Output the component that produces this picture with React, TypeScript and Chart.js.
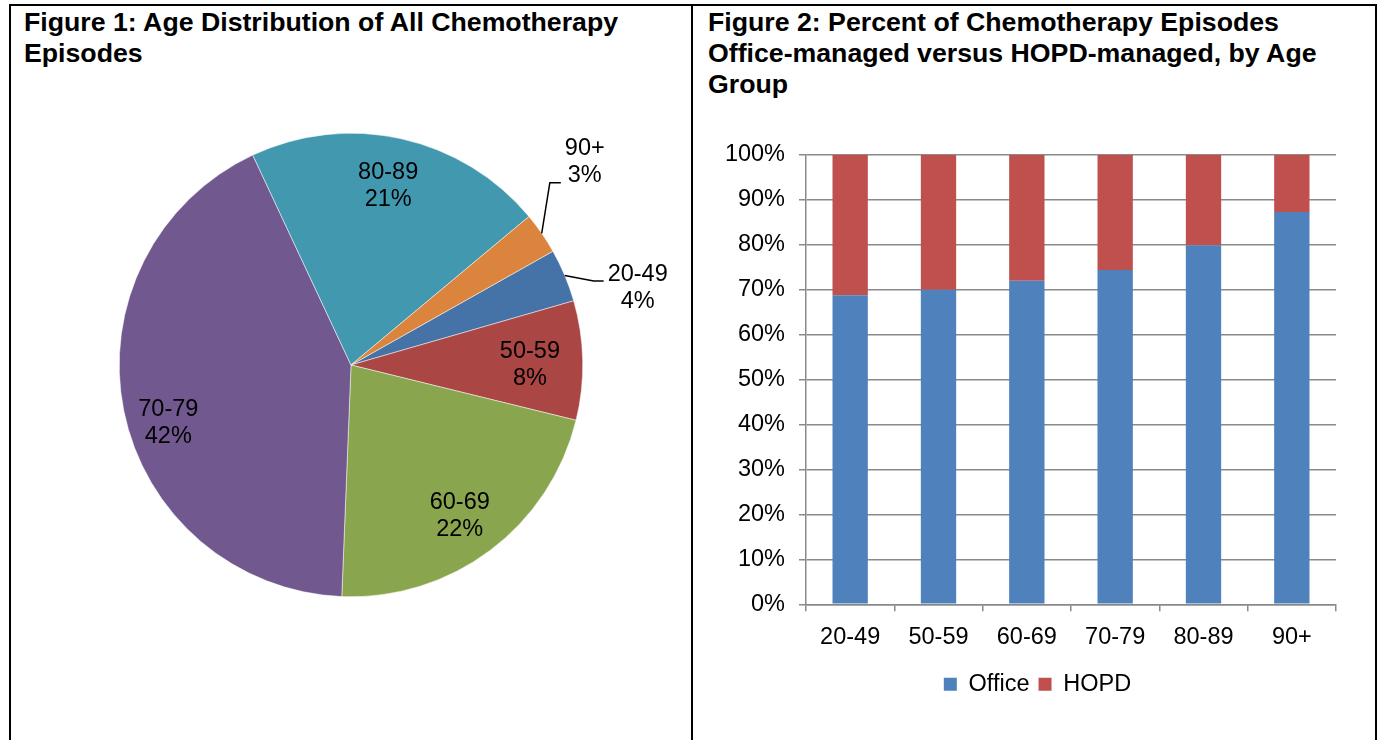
import React, { useEffect, useRef } from "react";
import { Chart, registerables } from "chart.js";

Chart.register(...registerables);

// ---------- Data ----------
const pieCategories = ["20-49", "50-59", "60-69", "70-79", "80-89", "90+"];
const pieValues = [3.7, 8.3, 21.8, 42.4, 20.9, 2.9];
const pieColors = ["#4572A7", "#AA4643", "#89A54E", "#71588F", "#4198AF", "#DB843D"];

const barCategories = ["20-49", "50-59", "60-69", "70-79", "80-89", "90+"];
const officeValues = [68.8, 70.0, 72.0, 74.4, 79.9, 87.3];
const hopdValues = [31.2, 30.0, 28.0, 25.6, 20.1, 12.7];
const yTickStep = 10;

// ---------- Styles ----------
const FONT = '"Liberation Sans", Arial, sans-serif';
const LABEL_SIZE = 23.5;
const GRID = "#8a8a8a";

// pie label placement (style only): radius factor & angle shift (deg) relative to slice mid-angle
const labelRadius = [1.281, 0.772, 0.803, 0.827, 0.788, 1.337];
const labelShift = [7.7, 1.1, 1.2, -6.2, -0.8, -6.4];
const leaderDy = [-7, 0, 0, 0, 0, 21];
const leaderLen = [10, 0, 0, 0, 0, 11];

const pieLabelPlugin = {
  id: "pieLabels",
  afterDatasetsDraw(chart: any) {
    const ctx = chart.ctx;
    const meta = chart.getDatasetMeta(0);
    const data = chart.data.datasets[0].data as number[];
    const total = data.reduce((a, b) => a + b, 0);
    ctx.save();
    ctx.font = `${LABEL_SIZE}px ${FONT}`;
    ctx.fillStyle = "#000";
    ctx.textAlign = "center";
    ctx.textBaseline = "middle";
    meta.data.forEach((arc: any, i: number) => {
      const p = arc.getProps(["x", "y", "startAngle", "endAngle", "outerRadius"], true);
      const mid = (p.startAngle + p.endAngle) / 2;
      const a = mid + (labelShift[i] * Math.PI) / 180;
      const r = p.outerRadius * labelRadius[i];
      const cx = p.x + r * Math.cos(a);
      const cy = p.y + r * Math.sin(a);
      const lines = [chart.data.labels[i], Math.round((data[i] / total) * 100) + "%"];
      const gap = 27;
      ctx.fillText(lines[0], cx, cy - gap / 2);
      ctx.fillText(lines[1], cx, cy + gap / 2);
      if (leaderLen[i] > 0) {
        const w = Math.max(ctx.measureText(lines[0]).width, ctx.measureText(lines[1]).width);
        const endX = cx - w / 2 - 4;
        const endY = cy + leaderDy[i];
        const sx = p.x + p.outerRadius * Math.cos(mid);
        const sy = p.y + p.outerRadius * Math.sin(mid);
        ctx.beginPath();
        ctx.moveTo(sx, sy);
        ctx.lineTo(endX - leaderLen[i], endY);
        ctx.lineTo(endX, endY);
        ctx.strokeStyle = "#000";
        ctx.lineWidth = 1.5;
        ctx.stroke();
      }
    });
    ctx.restore();
  },
};

function PieChart() {
  const ref = useRef<HTMLCanvasElement>(null);
  useEffect(() => {
    const chart = new Chart(ref.current!, {
      type: "pie",
      data: {
        labels: pieCategories,
        datasets: [
          {
            data: pieValues,
            backgroundColor: pieColors,
            borderColor: "#ffffff",
            borderWidth: 0.5,
          },
        ],
      },
      options: {
        responsive: false,
        animation: false,
        rotation: 60.6,
        layout: { padding: { left: 108, right: 108, top: 33, bottom: 43 } },
        plugins: { legend: { display: false }, tooltip: { enabled: false } },
      },
      plugins: [pieLabelPlugin],
    } as any);
    return () => chart.destroy();
  }, []);
  return (
    <canvas
      ref={ref}
      width={680}
      height={540}
      style={{ position: "absolute", left: 11, top: 100, width: 680, height: 540 }}
    />
  );
}

function BarChart() {
  const ref = useRef<HTMLCanvasElement>(null);
  useEffect(() => {
    const font = { family: FONT, size: LABEL_SIZE };
    const chart = new Chart(ref.current!, {
      type: "bar",
      data: {
        labels: barCategories,
        datasets: [
          { label: "Office", data: officeValues, backgroundColor: "#4F81BD", barPercentage: 0.4, categoryPercentage: 1 },
          { label: "HOPD", data: hopdValues, backgroundColor: "#C0504D", barPercentage: 0.4, categoryPercentage: 1 },
        ],
      },
      options: {
        responsive: false,
        animation: false,
        layout: { padding: { left: 0, right: 0, top: 55, bottom: 34 } },
        plugins: {
          tooltip: { enabled: false },
          legend: {
            position: "bottom",
            labels: { font, color: "#000", boxWidth: 13, boxHeight: 13, padding: 9 },
          },
        },
        scales: {
          x: {
            stacked: true,
            grid: { display: true, drawOnChartArea: false, tickLength: 7, color: GRID, lineWidth: 1.5, offset: true },
            border: { display: true, color: GRID, width: 1.5 },
            ticks: { font, color: "#000", padding: 12 },
          },
          y: {
            stacked: true,
            min: 0,
            max: 100,
            afterFit: (s: any) => {
              s.width = 113;
            },
            ticks: { stepSize: yTickStep, font, color: "#000", padding: 14, callback: (v: any) => v + "%" },
            grid: { color: GRID, lineWidth: 1.5, tickLength: 7 },
            border: { display: true, color: GRID, width: 1.5 },
          },
          yRightSpace: {
            position: "right",
            display: true,
            grid: { display: false, drawOnChartArea: false },
            border: { display: false },
            ticks: { display: false },
            afterFit: (s: any) => {
              s.width = 46;
            },
          },
        },
      },
    } as any);
    return () => chart.destroy();
  }, []);
  return (
    <canvas
      ref={ref}
      width={689}
      height={640}
      style={{ position: "absolute", left: 693, top: 100, width: 689, height: 640 }}
    />
  );
}

const titleStyle: React.CSSProperties = {
  position: "absolute",
  top: 7,
  fontFamily: FONT,
  fontWeight: "bold",
  fontSize: 26.7,
  lineHeight: "31px",
  whiteSpace: "nowrap",
  color: "#000",
};

const line = (l: number, t: number, w: number, h: number): React.CSSProperties => ({
  position: "absolute",
  left: l,
  top: t,
  width: w,
  height: h,
  background: "#000",
});

export default function App() {
  return (
    <div
      style={{
        position: "fixed",
        left: 0,
        top: 0,
        width: 1381,
        height: 740,
        background: "#fff",
        overflow: "hidden",
      }}
    >
      <PieChart />
      <BarChart />
      <div style={{ ...titleStyle, left: 24 }}>
        Figure 1: Age Distribution of All Chemotherapy
        <br />
        Episodes
      </div>
      <div style={{ ...titleStyle, left: 708 }}>
        Figure 2: Percent of Chemotherapy Episodes
        <br />
        Office-managed versus HOPD-managed, by Age
        <br />
        Group
      </div>
      <div style={line(9, 4, 1368, 2)} />
      <div style={line(9, 4, 2, 736)} />
      <div style={line(691, 4, 2, 736)} />
      <div style={line(1375, 4, 2, 736)} />
    </div>
  );
}
